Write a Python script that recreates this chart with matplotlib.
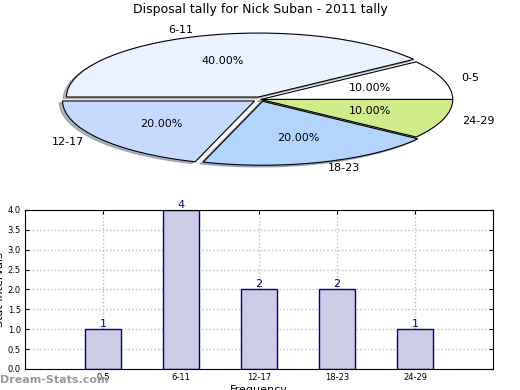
import matplotlib

matplotlib.use("Agg")
import matplotlib.pyplot as plt


# Chart data.
INTERVALS = ["0-5", "6-11", "12-17", "18-23", "24-29"]
COUNTS = [1, 4, 2, 2, 1]
SLICE_COLOURS = ["#FFFFFF", "#EAF1FF", "#C6D9FF", "#B3D4FF", "#D0EB8A"]
EXPLODE = [0.0, 0.04, 0.04, 0.03, 0.0]
TITLE = "Disposal tally for Nick Suban - 2011 tally"


def draw_pie(fig):
    """Flattened pie chart on the top half of the figure."""

    ax = fig.add_axes([0.04, 0.54, 0.923, 0.41])
    ax.pie(
        COUNTS,
        labels=INTERVALS,
        colors=SLICE_COLOURS,
        explode=EXPLODE,
        autopct="%.2f%%",
        startangle=0,
        shadow={"ox": -0.012, "oy": -0.02, "shade": 0.5},
        wedgeprops={"edgecolor": "black", "linewidth": 0.8},
        textprops={"fontsize": 8},
    )

    # The original pie is squashed to fit its box, not kept circular.
    ax.set_aspect("auto")
    ax.set_xlim(-1.25, 1.25)
    ax.set_ylim(-1.25, 1.25)

    fig.text(0.5, 0.975, TITLE, ha="center", va="center", fontsize=9)


def draw_bars(fig):
    """Bar chart of the same tallies on the bottom half."""

    ax = fig.add_axes([0.048, 0.054, 0.9, 0.4077])
    positions = list(range(len(INTERVALS)))

    ax.bar(
        positions,
        COUNTS,
        width=0.46,
        color="#CCCCE6",
        edgecolor="#000080",
        linewidth=1,
        zorder=2,
    )

    for pos, value in zip(positions, COUNTS):
        ax.text(
            pos,
            value,
            str(value),
            ha="center",
            va="bottom",
            color="#000080",
            fontsize=8,
        )

    ax.set_xlim(-1, 5)
    ax.set_ylim(0, 4)
    ax.set_xticks(positions)
    ax.set_xticklabels(INTERVALS)
    ax.set_yticks([i * 0.5 for i in range(9)])
    ax.tick_params(
        direction="in",
        labelsize=6,
        top=True,
        right=True,
        length=3,
        pad=3,
    )
    ax.grid(True, linestyle=":", color="#BBBBBB", linewidth=1, zorder=0)
    ax.set_axisbelow(True)

    ax.set_xlabel("Frequency", fontsize=8, labelpad=2)
    ax.set_ylabel("Stat Intervals", fontsize=8, labelpad=2)

    fig.text(
        0.0,
        0.025,
        "Dream-Stats.com",
        ha="left",
        va="center",
        fontsize=8,
        color="#999999",
        fontweight="bold",
    )


def main():
    fig = plt.figure(figsize=(5.2, 3.9), dpi=100)
    draw_pie(fig)
    draw_bars(fig)
    fig.savefig("out.png", dpi=100)


if __name__ == "__main__":
    main()
